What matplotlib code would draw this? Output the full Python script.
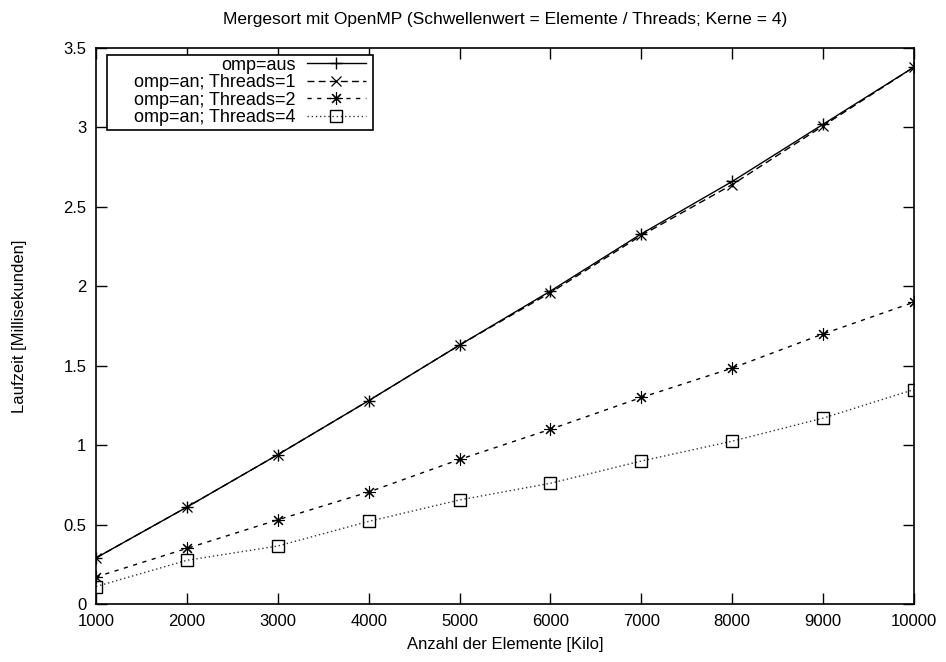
import matplotlib
matplotlib.use("Agg")
from matplotlib import pyplot as plt
from matplotlib.patches import Rectangle
from matplotlib.ticker import FormatStrFormatter, MultipleLocator
import numpy as np

plt.rcParams['font.family'] = ['Liberation Sans', 'DejaVu Sans']

elemente = [1000, 2000, 3000, 4000, 5000, 6000, 7000, 8000, 9000, 10000]
omp_aus = [0.29, 0.61, 0.94, 1.28, 1.63, 1.97, 2.33, 2.66, 3.02, 3.38]
threads1 = [0.29, 0.61, 0.94, 1.28, 1.63, 1.96, 2.32, 2.64, 3.01, 3.38]
threads2 = [0.17, 0.35, 0.53, 0.705, 0.91, 1.10, 1.30, 1.485, 1.70, 1.90]
threads4 = [0.11, 0.275, 0.365, 0.52, 0.655, 0.76, 0.90, 1.025, 1.17, 1.35]

W, H = 946, 662
fig = plt.figure(figsize=(W / 100, H / 100), dpi=100)
ax = fig.add_axes([96 / W, 1 - 604 / H, (914 - 96) / W, (604 - 48) / H])

ax.plot(elemente, omp_aus, color='black', lw=1, marker='+', markersize=9, mew=1,
        label='omp=aus')
ax.plot(elemente, threads1, color='black', lw=1, ls=(0, (5, 3)), marker='x',
        markersize=7, mew=0.9, label='omp=an; Threads=1')
ax.plot(elemente, threads2, color='black', lw=1, ls=(0, (3, 4)), marker=(8, 2, 0),
        markersize=9, mew=0.8, label='omp=an; Threads=2')
ax.plot(elemente, threads4, color='#333333', lw=1, ls=(0, (1, 2)), marker='s',
        markersize=9, mew=1, mfc='none', mec='black', label='omp=an; Threads=4')

ax.set_xlim(1000, 10000)
ax.set_ylim(0, 3.5)
ax.xaxis.set_major_locator(MultipleLocator(1000))
ax.yaxis.set_major_locator(MultipleLocator(0.5))
ax.yaxis.set_major_formatter(FormatStrFormatter('%g'))
ax.tick_params(direction='in', length=8, width=1, top=True, right=True,
               labelsize=12, pad=7)
for s in ax.spines.values():
    s.set_linewidth(1.2)

ax.set_xlabel('Anzahl der Elemente [Kilo]', fontsize=12, labelpad=6)
ax.set_ylabel('Laufzeit [Millisekunden]', fontsize=12, labelpad=26)
ax.set_title('Mergesort mit OpenMP (Schwellenwert = Elemente / Threads; Kerne = 4)',
             fontsize=12.5, pad=17)

leg = ax.legend(loc='upper right', bbox_to_anchor=(368 / W, 1 - 55 / H),
                bbox_transform=fig.transFigure, markerfirst=False,
                frameon=False, fontsize=13, handlelength=3.3, numpoints=1,
                labelspacing=0.02, borderpad=0.1, handletextpad=0.6,
                borderaxespad=0)
# Rahmen wie bei gnuplot etwas breiter als der Inhalt
fig.add_artist(Rectangle((107 / W, 1 - 130 / H), (373 - 107) / W, (130 - 55) / H,
                         transform=fig.transFigure, fill=True, facecolor='white',
                         edgecolor='black', lw=1.2, zorder=4))
leg.set_zorder(5)
fig.add_artist(leg)

fig.savefig('out.png', dpi=100)
